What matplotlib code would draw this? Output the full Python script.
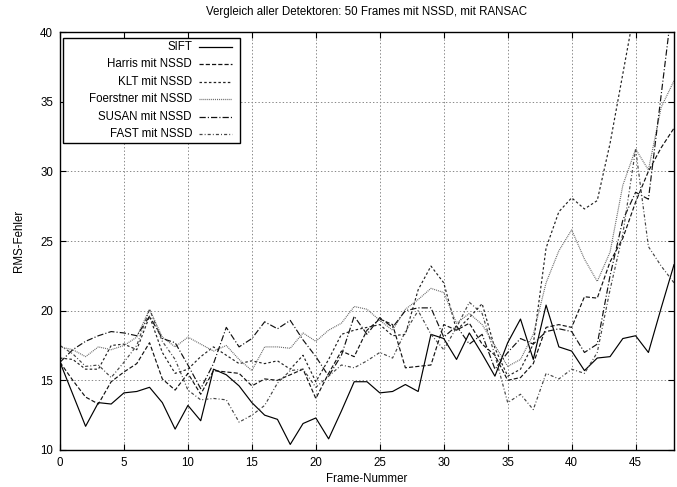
import matplotlib
matplotlib.use("Agg")
import matplotlib.pyplot as plt
from matplotlib.lines import Line2D
from matplotlib.patches import Rectangle

plt.rcParams['font.family'] = ['Liberation Sans', 'DejaVu Sans']
plt.rcParams['lines.scale_dashes'] = False

frames = list(range(49))

sift = [16.3, 14.0, 11.7, 13.4, 13.3, 14.1, 14.2, 14.5, 13.4, 11.5,
        13.2, 12.1, 15.8, 15.4, 14.6, 13.4, 12.5, 12.2, 10.4, 11.9,
        12.3, 10.8, 12.8, 14.9, 14.9, 14.1, 14.2, 14.7, 14.2, 18.3,
        18.0, 16.5, 18.4, 16.9, 15.3, 17.7, 19.4, 16.5, 20.4, 17.4,
        17.1, 15.7, 16.6, 16.7, 18.0, 18.2, 17.0, 20.2, 23.3]

harris = [16.3, 15.0, 13.8, 13.3, 14.9, 15.6, 16.2, 17.7, 15.1, 14.3,
          15.5, 14.0, 15.7, 15.6, 15.5, 14.6, 15.1, 15.0, 15.4, 15.8,
          13.7, 15.5, 17.1, 16.7, 18.6, 19.4, 19.0, 15.9, 16.0, 16.1,
          19.0, 18.6, 19.1, 17.6, 16.8, 15.0, 15.2, 16.2, 18.8, 19.0,
          18.8, 21.0, 20.9, 23.5, 25.2, 27.8, 30.0, 31.7, 33.1]

klt = [16.6, 16.5, 15.8, 15.8, 17.5, 17.6, 17.2, 19.6, 17.0, 15.5,
       15.8, 16.7, 17.4, 16.8, 16.2, 16.4, 16.2, 16.4, 15.8, 16.8,
       14.9, 16.5, 18.3, 18.6, 18.8, 19.0, 18.2, 18.3, 21.5, 23.2,
       22.0, 18.6, 19.5, 20.5, 17.3, 15.3, 15.8, 17.6, 24.5, 27.1,
       28.1, 27.3, 27.9, 32.0, 37.0, 42.0, 45.0, 47.0, 48.0]

foerstner = [17.4, 17.2, 16.7, 17.4, 17.2, 17.5, 18.1, 20.1, 18.1, 17.4,
             18.1, 17.6, 17.1, 17.5, 16.5, 15.7, 17.4, 17.4, 17.3, 18.4,
             17.8, 18.6, 19.1, 20.3, 20.1, 19.3, 18.6, 20.1, 20.8, 21.6,
             21.3, 19.1, 19.8, 19.0, 17.5, 16.0, 16.5, 18.3, 22.0, 24.3,
             25.8, 23.7, 22.1, 24.2, 29.0, 31.6, 30.1, 34.6, 36.5]

susan = [16.3, 17.2, 17.8, 18.2, 18.5, 18.4, 18.2, 19.6, 18.0, 17.7,
         16.1, 14.4, 16.2, 18.8, 17.4, 18.0, 19.2, 18.7, 19.3, 17.9,
         16.7, 15.3, 16.8, 19.6, 18.3, 19.5, 18.8, 20.0, 20.2, 20.2,
         18.1, 18.9, 17.6, 18.3, 15.8, 17.0, 18.0, 17.6, 18.5, 18.7,
         18.5, 17.0, 17.6, 22.5, 26.5, 28.5, 28.0, 35.5, 43.0]

fast = [17.5, 16.9, 16.0, 16.1, 15.2, 16.3, 17.5, 20.1, 17.8, 16.5,
        14.3, 13.6, 13.7, 13.6, 12.0, 12.5, 13.2, 14.8, 15.7, 15.8,
        14.5, 15.3, 16.1, 15.9, 16.4, 17.0, 16.6, 18.5, 20.0, 18.3,
        17.2, 18.8, 20.6, 19.8, 16.8, 13.4, 14.0, 12.9, 15.5, 15.1,
        15.8, 15.5, 17.0, 21.5, 25.5, 31.6, 24.6, 23.2, 22.0]

labels = ["SIFT", "Harris mit NSSD", "KLT mit NSSD", "Foerstner mit NSSD",
          "SUSAN mit NSSD", "FAST mit NSSD"]

styles = [
    dict(color="black", linestyle="-"),
    dict(color="#111111", linestyle=(0, (3.0, 1.5))),
    dict(color="#222222", linestyle=(0, (1.8, 1.6))),
    dict(color="#666666", linestyle=(0, (0.7, 0.7))),
    dict(color="#111111", linestyle=(0, (4.5, 1.5, 0.8, 1.5))),
    dict(color="#444444", linestyle=(0, (2.2, 1.5, 0.7, 1.5))),
]

W, H = 677, 487
FS = 8.3

fig = plt.figure(figsize=(W / 100, H / 100), dpi=100)
ax = fig.add_axes([60 / W, 1 - 450 / H, 614 / W, 418 / H])

for series, st in zip([sift, harris, klt, foerstner, susan, fast], styles):
    ax.plot(frames, series, lw=0.85, **st)

ax.set_xlim(0, 48)
ax.set_ylim(10, 40)
ax.set_xticks(range(0, 46, 5))
ax.set_yticks(range(10, 41, 5))
ax.tick_params(direction="in", length=4, width=0.8, labelsize=FS,
               top=True, right=True, pad=5)
ax.grid(True, linestyle=(0, (1, 1.5)), color="#888888", linewidth=0.7)
for sp in ax.spines.values():
    sp.set_linewidth(1.0)

ax.set_title("Vergleich aller Detektoren: 50 Frames mit NSSD, mit RANSAC",
             fontsize=FS, pad=12)
ax.set_xlabel("Frame-Nummer", fontsize=FS, labelpad=3)
ax.set_ylabel("RMS-Fehler", fontsize=FS, labelpad=11)


# key box in the upper left corner, gnuplot style: label right-aligned, sample after it
def fx(px):
    return px / W


def fy(py):
    return 1 - py / H


box = Rectangle((fx(63), fy(142.5)), fx(240) - fx(63), fy(37.5) - fy(142.5),
                transform=fig.transFigure, facecolor="white",
                edgecolor="black", linewidth=1.0, zorder=5)
fig.patches.append(box)
row_y = [46.7, 64.2, 81.7, 99.2, 116.7, 134.2]
for ry, label, st in zip(row_y, labels, styles):
    fig.text(fx(192), fy(ry), label, ha="right", va="center",
             fontsize=FS, zorder=6)
    fig.lines.append(Line2D([fx(199), fx(232)], [fy(ry), fy(ry)],
                            transform=fig.transFigure, lw=0.9, zorder=6,
                            **st))

fig.savefig("out.png", dpi=100)
